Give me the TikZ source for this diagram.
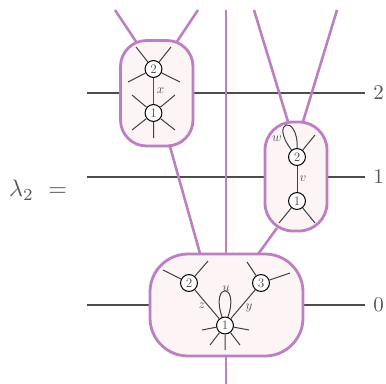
\documentclass[tikz,border=0pt]{standalone}
\definecolor{pur}{HTML}{BC7FC0}
\definecolor{fillp}{HTML}{FDF4F5}
\definecolor{txt}{HTML}{555555}
\definecolor{lin}{HTML}{4D4D4D}
\tikzset{
  wire/.style={lin,line width=1.6bp},
  thinwire/.style={lin,line width=1.2bp},
  strand/.style={pur,line width=2.6bp},
  box/.style={draw=pur,fill=fillp,line width=2.8bp},
  leg/.style={black!75,line width=1bp},
  vert/.style={circle,draw=black,fill=white,line width=1bp,minimum size=13bp,inner sep=0pt,scale=1.3,text=txt},
  lab/.style={text=txt,inner sep=0pt,scale=1.3},
  lev/.style={text=txt,inner sep=0pt,scale=2.1},
  eqn/.style={text=txt,inner sep=0pt,scale=2.4}
}
\begin{document}
\begin{tikzpicture}[x=1bp,y=-1bp]
\useasboundingbox (0,0) rectangle (386,384);
% level wires
\coordinate (w2a) at (87,93); \coordinate (w2b) at (365,93);
\coordinate (w1a) at (87,177); \coordinate (w1b) at (365,177);
\coordinate (w0a) at (87,305); \coordinate (w0b) at (365,305);
\draw[wire] (w2a)--(w2b);
\draw[wire] (w1a)--(w1b);
\draw[wire] (w0a)--(w0b);
% strands
\coordinate (t0) at (226,10); \coordinate (t1) at (226,384);
\draw[strand] (t0)--(t1);
\coordinate (p1) at (115,10); \coordinate (p2) at (137,43);
\coordinate (p3) at (198,10); \coordinate (p4) at (176,43);
\coordinate (p5) at (169,143); \coordinate (p6) at (201,257);
\coordinate (p7) at (254,10); \coordinate (p8) at (289,125);
\coordinate (p9) at (337,10); \coordinate (p10) at (302,125);
\coordinate (p11) at (277,228); \coordinate (p12) at (256,257);
\draw[strand] (p1)--(p2);
\draw[strand] (p3)--(p4);
\draw[strand] (p5)--(p6);
\draw[strand] (p7)--(p8);
\draw[strand] (p9)--(p10);
\draw[strand] (p11)--(p12);
% boxes
\draw[box,rounded corners=26bp] (120.5,40.5) rectangle (193,146);
\draw[box,rounded corners=28bp] (265,122) rectangle (327,231);
\draw[box,rounded corners=38bp] (150,254) rectangle (303,356);
% box A
\node[vert] (A2) at (153.5,69) {2};
\node[vert] (A1) at (153.5,113) {1};
\draw[thinwire] (A2)--(A1);
\coordinate (a21) at (136,47); \coordinate (a22) at (171,47); \coordinate (a23) at (128,82); \coordinate (a24) at (180,82);
\coordinate (a11) at (132,95); \coordinate (a12) at (175,95); \coordinate (a13) at (132,130); \coordinate (a14) at (175,130); \coordinate (a15) at (153.5,138);
\foreach \c in {a21,a22,a23,a24}{\draw[leg] (A2)--(\c);}
\foreach \c in {a11,a12,a13,a14,a15}{\draw[leg] (A1)--(\c);}
\node[lab] at (160.5,90.5) {$x$};
% box B
\node[vert] (B2) at (297,157) {2};
\node[vert] (B1) at (297,201) {1};
\draw[leg] (B2)--(B1);
\coordinate (b21) at (315,135); \coordinate (b11) at (279,223); \coordinate (b12) at (315,223);
\draw[leg] (B2)--(b21);
\draw[leg] (B1)--(b11);
\draw[leg] (B1)--(b12);
\draw[leg] (B2) .. controls (298,113) and (269,121) .. (B2);
\node[lab] at (277,139) {$w$};
\node[lab] at (303,179) {$v$};
% box C
\node[vert] (C2) at (189,283) {2};
\node[vert] (C3) at (261,283) {3};
\node[vert] (C1) at (225,325.5) {1};
\draw[leg] (C2)--(C1);
\draw[leg] (C3)--(C1);
\coordinate (c21) at (163,270); \coordinate (c22) at (208,261);
\coordinate (c31) at (247,262); \coordinate (c32) at (290,273);
\coordinate (c11) at (202,330); \coordinate (c12) at (249,330); \coordinate (c13) at (210,345); \coordinate (c14) at (240,345); \coordinate (c15) at (225,350);
\foreach \c in {c21,c22}{\draw[leg] (C2)--(\c);}
\foreach \c in {c31,c32}{\draw[leg] (C3)--(\c);}
\foreach \c in {c11,c12,c13,c14,c15}{\draw[leg] (C1)--(\c);}
\draw[leg] (C1) .. controls (240,282) and (210,282) .. (C1);
\node[lab] at (226,289) {$u$};
\node[lab] at (202,306) {$z$};
\node[lab] at (249,308) {$y$};
% levels
\node[lev] at (378.5,93) {2};
\node[lev] at (378.5,177) {1};
\node[lev] at (378.5,305) {0};
\node[eqn] at (38,190) {$\lambda_2\ =$};
\end{tikzpicture}
\end{document}
